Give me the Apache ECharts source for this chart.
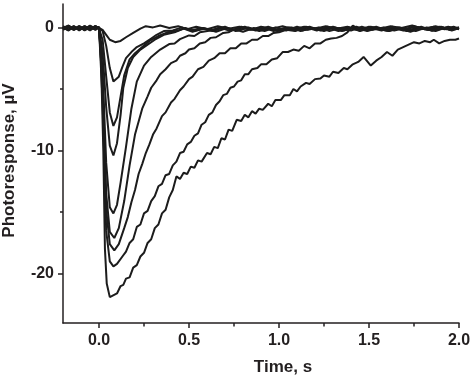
<!DOCTYPE html>
<html>
<head>
<meta charset="utf-8">
<script src="https://cdn.jsdelivr.net/npm/echarts@6/dist/echarts.min.js"></script>
<style>
  html, body { margin: 0; padding: 0; background: #fff; }
  #chart { width: 472px; height: 377px; }
</style>
</head>
<body>
<div id="chart"></div>
<script>
  // photoresponse traces, [time s, response uV]
  const traceA = [[-0.2, 0.05], [-0.17, -0.2], [-0.14, 0.1], [-0.11, -0.15], [-0.08, 0.1], [-0.05, -0.1],
    [-0.02, 0.1], [0.0, -0.05], [0.02, -0.2], [0.04, -0.6], [0.06, -1.0], [0.09, -1.2], [0.12, -1.1],
    [0.15, -0.8], [0.19, -0.45], [0.23, -0.1], [0.26, 0.1], [0.3, 0.0], [0.34, 0.15], [0.39, -0.05],
    [0.44, 0.1], [0.49, -0.15], [0.54, 0.05], [0.6, -0.15], [0.66, 0.1], [0.72, -0.1], [0.78, 0.05],
    [0.84, -0.2], [0.9, 0.05], [0.96, -0.1], [1.02, 0.1], [1.08, -0.15], [1.14, 0.05], [1.2, -0.1],
    [1.26, 0.1], [1.32, -0.1], [1.38, 0.05], [1.44, -0.2], [1.5, 0.05], [1.56, -0.1], [1.62, 0.1],
    [1.68, -0.05], [1.74, 0.15], [1.8, -0.1], [1.86, 0.05], [1.92, -0.15], [1.97, 0.05], [2.0, -0.1]]

  const traceB = [[-0.2, -0.1], [-0.17, 0.15], [-0.14, -0.15], [-0.11, 0.05], [-0.08, -0.2], [-0.05, 0.1],
    [-0.02, -0.1], [0.0, 0.0], [0.02, -0.3], [0.04, -1.5], [0.06, -3.3], [0.08, -4.4], [0.09, -4.5],
    [0.11, -4.0], [0.13, -3.2], [0.15, -2.5], [0.18, -2.0], [0.21, -1.6], [0.25, -1.3], [0.29, -0.9],
    [0.32, -0.6], [0.36, -0.3], [0.41, -0.25], [0.46, 0.0], [0.51, -0.25], [0.57, -0.05], [0.63, -0.3],
    [0.69, 0.0], [0.75, -0.2], [0.81, 0.05], [0.87, -0.25], [0.93, -0.05], [0.99, -0.3], [1.05, 0.0],
    [1.11, -0.2], [1.17, 0.05], [1.23, -0.25], [1.29, -0.05], [1.35, -0.3], [1.41, 0.0], [1.47, -0.2],
    [1.53, 0.0], [1.59, -0.25], [1.65, -0.05], [1.71, -0.3], [1.77, 0.0], [1.83, -0.2], [1.89, 0.05],
    [1.95, -0.2], [2.0, -0.05]]

  const traceC = [[-0.2, 0.0], [-0.17, -0.25], [-0.14, 0.05], [-0.11, -0.2], [-0.08, 0.0], [-0.05, -0.25],
    [-0.02, 0.05], [0.0, -0.1], [0.02, -1.0], [0.04, -4.0], [0.06, -6.9], [0.08, -8.0], [0.1, -7.3],
    [0.12, -5.6], [0.14, -3.9], [0.17, -2.6], [0.2, -2.1], [0.24, -1.6], [0.28, -1.1], [0.33, -0.7],
    [0.38, -0.4], [0.43, -0.3], [0.48, -0.05], [0.53, -0.3], [0.59, -0.1], [0.65, -0.35], [0.71, -0.05],
    [0.77, -0.25], [0.83, 0.0], [0.89, -0.3], [0.95, -0.1], [1.01, -0.3], [1.07, 0.0], [1.13, -0.25],
    [1.19, -0.05], [1.25, -0.3], [1.31, 0.0], [1.37, -0.2], [1.43, 0.05], [1.49, -0.25], [1.55, -0.05],
    [1.61, -0.3], [1.67, 0.0], [1.73, -0.2], [1.79, 0.05], [1.85, -0.25], [1.91, 0.0], [1.96, -0.2],
    [2.0, -0.1]]

  const traceD = [[-0.2, -0.15], [-0.17, 0.1], [-0.14, -0.2], [-0.11, 0.0], [-0.08, -0.15], [-0.05, 0.15],
    [-0.02, -0.1], [0.0, 0.0], [0.02, -2.0], [0.04, -6.5], [0.06, -9.6], [0.08, -10.4], [0.1, -9.4],
    [0.12, -7.1], [0.135, -4.9], [0.16, -3.3], [0.19, -2.4], [0.23, -1.8], [0.27, -1.4], [0.31, -1.0],
    [0.36, -0.6], [0.42, -0.4], [0.47, -0.1], [0.52, -0.35], [0.58, -0.05], [0.64, -0.25], [0.7, 0.05],
    [0.76, -0.3], [0.82, -0.05], [0.88, -0.2], [0.94, 0.05], [1.0, -0.25], [1.06, 0.0], [1.12, -0.3],
    [1.18, -0.05], [1.24, -0.2], [1.3, 0.05], [1.36, -0.25], [1.42, 0.0], [1.48, -0.2], [1.54, 0.05],
    [1.6, -0.25], [1.66, 0.0], [1.72, -0.3], [1.78, -0.05], [1.84, -0.2], [1.9, 0.05], [1.95, -0.2],
    [2.0, 0.0]]

  const traceE = [[-0.2, 0.1], [-0.17, -0.15], [-0.14, 0.1], [-0.11, -0.25], [-0.08, 0.05], [-0.05, -0.15],
    [-0.02, 0.1], [0.0, -0.1], [0.02, -3.5], [0.04, -11.0], [0.06, -14.6], [0.08, -15.1], [0.1, -14.4],
    [0.12, -12.6], [0.15, -9.7], [0.18, -6.6], [0.21, -4.4], [0.25, -3.1], [0.29, -2.4], [0.34, -1.8],
    [0.39, -1.35], [0.42, -1.3], [0.45, -0.95], [0.5, -0.65], [0.53, -0.7], [0.56, -0.4], [0.62, -0.25],
    [0.67, 0.0], [0.73, -0.3], [0.79, 0.05], [0.85, -0.2], [0.91, 0.0], [0.97, -0.3], [1.03, -0.05],
    [1.09, -0.25], [1.15, 0.05], [1.21, -0.2], [1.27, 0.0], [1.33, -0.3], [1.39, -0.05], [1.45, -0.25],
    [1.51, 0.05], [1.57, -0.2], [1.63, 0.0], [1.69, -0.25], [1.75, 0.05], [1.81, -0.15], [1.87, 0.1],
    [1.93, -0.15], [2.0, 0.0]]

  const traceF = [[-0.2, -0.05], [-0.17, 0.15], [-0.14, -0.1], [-0.11, 0.1], [-0.08, -0.2], [-0.05, 0.05],
    [-0.02, -0.15], [0.0, 0.05], [0.02, -4.5], [0.04, -13.5], [0.06, -16.6], [0.085, -17.1], [0.11, -16.3],
    [0.14, -14.1], [0.17, -11.2], [0.2, -8.7], [0.24, -6.6], [0.27, -5.6], [0.29, -4.9], [0.32, -4.3],
    [0.34, -3.8], [0.37, -3.4], [0.4, -2.9], [0.43, -2.7], [0.45, -2.3], [0.48, -2.1], [0.5, -1.8],
    [0.53, -1.7], [0.56, -1.3], [0.59, -1.2], [0.62, -0.85], [0.65, -0.8], [0.69, -0.45], [0.72, -0.4],
    [0.75, -0.15], [0.8, -0.35], [0.86, -0.05], [0.92, -0.3], [0.98, 0.0], [1.04, -0.25], [1.1, 0.05],
    [1.16, -0.2], [1.22, 0.0], [1.28, -0.3], [1.34, -0.05], [1.4, -0.25], [1.46, 0.05], [1.52, -0.2],
    [1.58, 0.0], [1.64, -0.25], [1.7, -0.05], [1.76, -0.3], [1.82, 0.0], [1.88, -0.2], [1.94, 0.05],
    [2.0, -0.15]]

  const traceG = [[-0.2, -0.2], [-0.17, 0.05], [-0.14, -0.2], [-0.11, 0.1], [-0.08, -0.1], [-0.05, 0.1],
    [-0.02, -0.2], [0.0, 0.0], [0.02, -5.0], [0.04, -14.8], [0.06, -17.6], [0.085, -18.1], [0.11, -17.6],
    [0.14, -16.3], [0.16, -15.4], [0.18, -14.2], [0.2, -13.2], [0.22, -11.9], [0.24, -11.1], [0.26, -10.2],
    [0.28, -9.5], [0.3, -8.7], [0.32, -8.2], [0.35, -7.2], [0.37, -6.9], [0.4, -6.1], [0.42, -5.8],
    [0.45, -5.1], [0.47, -4.8], [0.5, -4.2], [0.52, -4.0], [0.55, -3.4], [0.58, -3.2], [0.61, -2.7],
    [0.64, -2.5], [0.67, -2.1], [0.7, -2.1], [0.73, -1.7], [0.76, -1.7], [0.79, -1.3], [0.82, -1.3],
    [0.85, -1.0], [0.88, -1.0], [0.91, -0.7], [0.94, -0.7], [0.97, -0.45], [1.0, -0.4], [1.04, -0.2],
    [1.09, -0.3], [1.15, 0.0], [1.21, -0.25], [1.27, 0.05], [1.33, -0.2], [1.39, 0.0], [1.45, -0.3],
    [1.51, -0.05], [1.57, -0.25], [1.63, 0.05], [1.69, -0.2], [1.75, 0.1], [1.81, -0.15], [1.87, -0.3],
    [1.93, 0.0], [2.0, -0.1]]

  const traceH = [[-0.2, 0.0], [-0.17, -0.25], [-0.14, 0.05], [-0.11, -0.15], [-0.08, 0.1], [-0.05, -0.2],
    [-0.02, 0.1], [0.0, -0.05], [0.02, -6.0], [0.04, -16.5], [0.06, -19.0], [0.08, -19.4], [0.1, -19.2],
    [0.13, -18.6], [0.15, -18.2], [0.17, -17.5], [0.19, -17.2], [0.21, -16.2], [0.23, -16.0], [0.25, -15.1],
    [0.27, -14.9], [0.29, -14.1], [0.31, -13.7], [0.33, -12.9], [0.35, -12.7], [0.37, -12.0], [0.39, -11.9],
    [0.41, -11.2], [0.43, -10.9], [0.45, -10.2], [0.47, -10.1], [0.49, -9.5], [0.51, -9.3], [0.53, -8.8],
    [0.55, -8.6], [0.57, -7.9], [0.59, -7.7], [0.61, -7.1], [0.63, -6.9], [0.65, -6.3], [0.67, -6.0],
    [0.69, -5.5], [0.71, -5.4], [0.73, -4.9], [0.75, -4.8], [0.77, -4.4], [0.79, -4.3], [0.81, -3.8],
    [0.83, -3.8], [0.85, -3.4], [0.88, -3.3], [0.9, -3.0], [0.93, -3.0], [0.96, -2.6], [0.99, -2.5],
    [1.02, -2.0], [1.05, -2.0], [1.08, -1.8], [1.11, -1.9], [1.14, -1.5], [1.17, -1.7], [1.2, -1.3],
    [1.23, -1.3], [1.26, -1.0], [1.29, -0.9], [1.32, -0.85], [1.35, -0.7], [1.38, -0.4], [1.41, 0.15],
    [1.44, -0.1], [1.49, -0.3], [1.55, -0.05], [1.61, -0.3], [1.67, -0.1], [1.73, -0.35], [1.79, -0.05],
    [1.85, -0.25], [1.91, 0.0], [1.96, -0.25], [2.0, -0.05]]

  const traceI = [[-0.2, -0.1], [-0.17, 0.1], [-0.14, -0.15], [-0.11, 0.05], [-0.08, -0.25], [-0.05, 0.0],
    [-0.02, -0.15], [0.0, 0.0], [0.01, -2.0], [0.024, -10.0], [0.033, -18.0], [0.043, -20.8],
    [0.06, -21.9], [0.07, -22.0], [0.1, -21.6], [0.12, -21.0], [0.135, -20.9], [0.15, -20.4],
    [0.17, -20.3], [0.19, -19.5], [0.21, -19.3], [0.23, -18.6], [0.25, -18.3], [0.27, -17.5],
    [0.29, -17.2], [0.31, -16.3], [0.33, -16.0], [0.35, -15.1], [0.37, -14.8], [0.39, -13.8],
    [0.41, -13.2], [0.43, -12.1], [0.45, -12.3], [0.47, -11.8], [0.49, -11.9], [0.51, -11.3],
    [0.53, -11.4], [0.55, -10.8], [0.57, -10.9], [0.6, -10.2], [0.62, -10.3], [0.64, -9.7],
    [0.66, -9.8], [0.68, -9.0], [0.7, -9.1], [0.72, -8.3], [0.74, -8.4], [0.765, -7.5], [0.79, -7.6],
    [0.81, -7.1], [0.83, -7.3], [0.85, -6.8], [0.87, -7.0], [0.89, -6.6], [0.91, -6.7], [0.94, -6.2],
    [0.96, -6.4], [0.98, -5.9], [1.01, -5.9], [1.03, -5.5], [1.06, -5.5], [1.08, -5.0], [1.1, -5.2],
    [1.12, -4.8], [1.15, -4.5], [1.17, -4.6], [1.2, -4.2], [1.23, -4.15], [1.25, -3.9], [1.28, -4.0],
    [1.3, -3.6], [1.33, -3.7], [1.36, -3.3], [1.38, -3.4], [1.41, -3.0], [1.44, -2.8], [1.47, -2.4],
    [1.51, -3.1], [1.54, -2.7], [1.57, -2.4], [1.6, -2.0], [1.63, -2.3], [1.66, -1.8], [1.69, -1.6],
    [1.72, -1.4], [1.75, -1.2], [1.78, -1.3], [1.81, -1.1], [1.84, -1.2], [1.86, -1.0], [1.89, -1.3],
    [1.92, -1.1], [1.95, -1.0], [1.98, -1.0], [2.0, -0.9]]

  const traces = [traceA, traceB, traceC, traceD, traceE, traceF, traceG, traceH, traceI]

  const xMajor = [0, 0.5, 1.0, 1.5, 2.0]
  const xMinor = [0.25, 0.75, 1.25, 1.75]
  const yMajor = [-20, -10, 0]
  const yMinor = [-15, -5]

  const font = "'Liberation Sans', Arial, sans-serif"
  const ink = '#231f20'

  const chart = echarts.init(document.getElementById('chart'), null, {renderer: 'canvas'})

  const tickStyle = {color: ink, width: 1.5}

  chart.setOption({
    animation: false,
    backgroundColor: '#fff',
    grid: {left: 63, right: 13, top: 4, bottom: 54, containLabel: false, outerBoundsMode: 'none'},
    xAxis: [{
      type: 'value',
      position: 'bottom',
      min: -0.2,
      max: 2.0,
      splitLine: {show: false},
      axisLine: {show: true, onZero: false, lineStyle: {color: ink, width: 1.5}},
      name: 'Time, s',
      nameLocation: 'middle',
      nameGap: 36,
      nameTextStyle: {fontFamily: font, fontWeight: 'bold', fontSize: 17, color: ink, padding: [0, 0, 0, 44]},
      axisTick: {show: true, inside: false, length: 5, customValues: xMajor, lineStyle: tickStyle},
      axisLabel: {
        customValues: xMajor, margin: 10,
        fontFamily: font, fontWeight: 'bold', fontSize: 16, color: ink,
        formatter: v => v.toFixed(1)
      }
    }, {
      // minor ticks only
      type: 'value',
      position: 'bottom',
      min: -0.2,
      max: 2.0,
      splitLine: {show: false},
      axisLine: {show: false, onZero: false},
      axisTick: {show: true, inside: false, length: 3.5, customValues: xMinor, lineStyle: tickStyle},
      axisLabel: {show: false}
    }],
    yAxis: [{
      type: 'value',
      position: 'left',
      min: -24,
      max: 1.9,
      splitLine: {show: false},
      axisLine: {show: true, onZero: false, lineStyle: {color: ink, width: 1.5}},
      name: 'Photoresponse, \u00b5V',
      nameLocation: 'middle',
      nameGap: 45,
      nameTextStyle: {fontFamily: font, fontWeight: 'bold', fontSize: 17, color: ink, padding: [0, 0, 0, 6]},
      axisTick: {show: true, inside: false, length: 5, customValues: yMajor, lineStyle: tickStyle},
      axisLabel: {
        customValues: yMajor, margin: 9,
        fontFamily: font, fontWeight: 'bold', fontSize: 16, color: ink,
        formatter: v => String(v)
      }
    }, {
      // minor ticks only
      type: 'value',
      position: 'left',
      min: -24,
      max: 1.9,
      splitLine: {show: false},
      axisLine: {show: false, onZero: false},
      axisTick: {show: true, inside: false, length: 3, customValues: yMinor, lineStyle: tickStyle},
      axisLabel: {show: false}
    }],
    series: traces.map(d => ({
      type: 'line',
      xAxisIndex: 0,
      yAxisIndex: 0,
      data: d,
      showSymbol: false,
      symbol: 'none',
      lineStyle: {color: '#1c1c1c', width: 2},
      emphasis: {disabled: true}
    }))
  })
</script>
</body>
</html>
